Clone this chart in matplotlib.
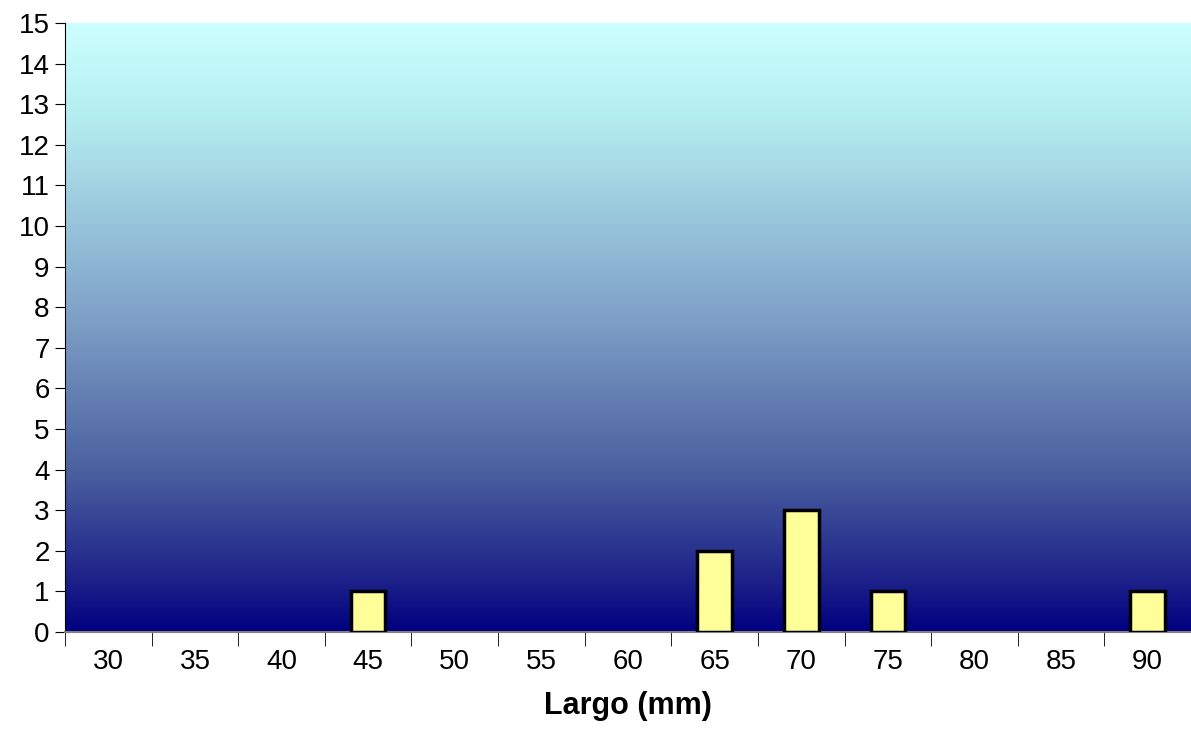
import matplotlib
matplotlib.use('agg')
import matplotlib.pyplot as plt
from matplotlib.colors import LinearSegmentedColormap
import numpy as np

plt.rcParams['font.family'] = ['Liberation Sans', 'DejaVu Sans']

# frequency per length class
largo = ["30", "35", "40", "45", "50", "55", "60", "65", "70", "75", "80", "85", "90"]
frecuencia = [0, 0, 0, 1, 0, 0, 0, 2, 3, 1, 0, 0, 1]

fig = plt.figure(figsize=(11.91, 7.53), dpi=100)
ax = fig.add_axes([65 / 1191, 1 - 632 / 753, 1126 / 1191, 609 / 753])

# vertical gradient background, navy at bottom to pale cyan at top
grad = LinearSegmentedColormap.from_list("fondo", [
    (0.0, "#000080"), (0.08, "#1C2088"), (0.27, "#4C62A0"),
    (0.52, "#7FA1C8"), (0.85, "#B5EEF0"), (1.0, "#CCFFFF")])
ax.imshow(np.linspace(0, 1, 256).reshape(-1, 1), cmap=grad, aspect='auto',
          origin='lower', extent=[0, 1, 0, 1], transform=ax.transAxes, zorder=0)

x = np.arange(len(largo))
bordes = ["black" if f > 0 else "none" for f in frecuencia]
ax.bar(x, frecuencia, width=0.4, color="#FFFF99", edgecolor=bordes,
       linewidth=2.5, zorder=3)

ax.set_xlim(-0.5, len(largo) - 0.5)
ax.set_ylim(0, 15)
ax.set_yticks(range(0, 16))
ax.tick_params(axis='y', labelsize=20, length=7, direction='out', pad=4)

# category labels centered, ticks on the boundaries
ax.set_xticks(x)
ax.set_xticklabels(largo)
ax.tick_params(axis='x', which='major', length=0, labelsize=20, pad=12)
ax.set_xticks(np.arange(-0.5, len(largo), 1), minor=True)
ax.tick_params(axis='x', which='minor', length=10, direction='out')

ax.spines['top'].set_visible(False)
ax.spines['right'].set_visible(False)
ax.spines['bottom'].set_color('#808080')
ax.spines['bottom'].set_linewidth(1.5)
ax.spines['left'].set_color('black')

ax.set_xlabel("Largo (mm)", fontsize=22, fontweight='bold', labelpad=12)

fig.savefig("out.png", dpi=100)
